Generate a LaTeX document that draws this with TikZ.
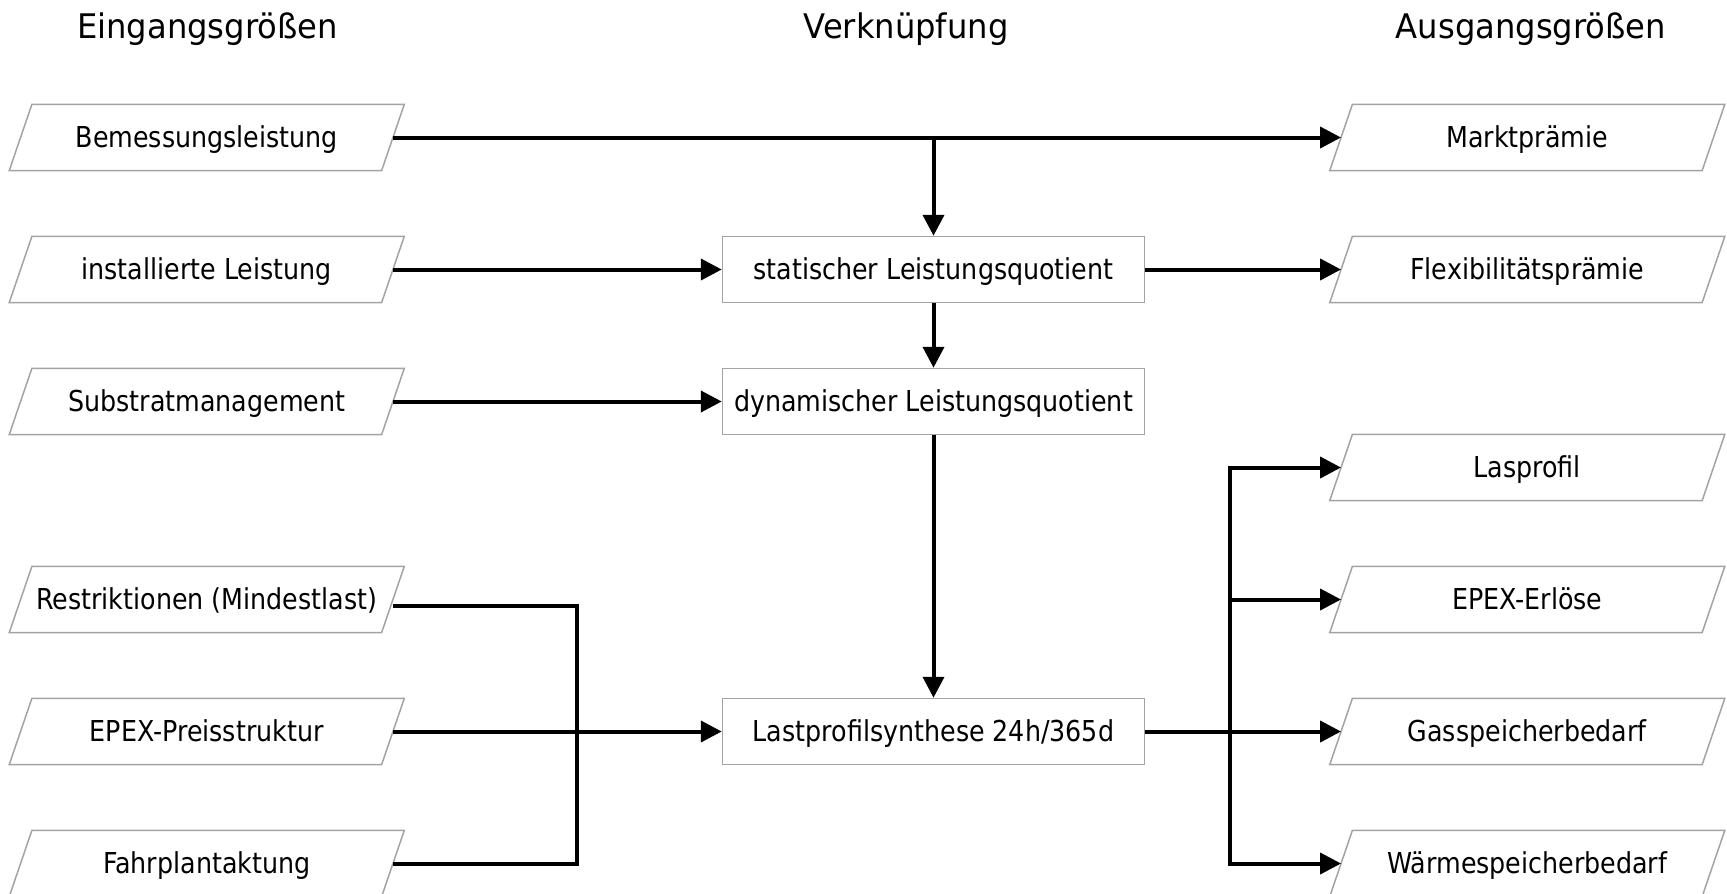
\documentclass[tikz,border=0pt]{standalone}
\usepackage{fontspec}
\setmainfont{DejaVu Sans}[FakeStretch=0.88]
\newfontfamily\titelfont{DejaVu Sans}[FakeStretch=0.95]
\usetikzlibrary{arrows.meta}
\definecolor{rahmengrau}{HTML}{A3A3A3}

\begin{document}
\begin{tikzpicture}[x=1pt, y=-1pt, >={Triangle[length=21pt,width=21pt]},
        every edge/.style={draw=black, line width=4pt},
        linie/.style={draw=black, line width=4pt},
        rahmen/.style={draw=rahmengrau, line width=1.5pt},
        titel/.style={anchor=base, font=\titelfont\fontsize{33.9}{40}\selectfont},
        eingang/.style={rectangle, minimum width=372pt, minimum height=66pt, inner sep=0pt, text height=20.5pt, text depth=0pt, font=\fontsize{28.8}{34}\selectfont},
        block/.style={rectangle, rahmen, minimum width=422pt, minimum height=66pt, text height=20.5pt, text depth=0pt, font=\fontsize{28.8}{34}\selectfont}]
        \useasboundingbox (0,0) rectangle (1727,894);

        \node[titel] (tein) at (207.5, 38) {Eingangsgrößen};

        \node[titel] (tverk) at (906, 38) {Verknüpfung};

        \node[titel] (taus) at (1531, 38) {Ausgangsgrößen};

        % Eingangsgroessen
        \node[eingang] (bem) at (206.75, 137.5) {Bemessungsleistung};

        \node[eingang] (inst) at (206.75, 269.5) {installierte Leistung};

        \node[eingang] (substr) at (206.75, 401.5) {Substratmanagement};

        \node[eingang] (restr) at (206.75, 599.5) {Restriktionen (Mindestlast)};

        \node[eingang] (epexP) at (206.75, 731.5) {EPEX-Preisstruktur};

        \node[eingang] (fahr) at (206.75, 863.5) {Fahrplantaktung};

        % Verknuepfung
        \node[block] (stat) at (933.5, 269.5) {statischer Leistungsquotient};

        \node[block] (dyn) at (933.5, 401.5) {dynamischer Leistungsquotient};

        \node[block] (synth) at (933.5, 731.5) {Lastprofilsynthese 24h/365d};

        % Ausgangsgroessen
        \node[eingang] (markt) at (1527.25, 137.5) {Marktprämie};

        \node[eingang] (flex) at (1527.25, 269.5) {Flexibilitätsprämie};

        \node[eingang] (lasp) at (1527.25, 467.5) {Lasprofil};

        \node[eingang] (epexE) at (1527.25, 599.5) {EPEX-Erlöse};

        \node[eingang] (gas) at (1527.25, 731.5) {Gasspeicherbedarf};

        \node[eingang] (waerme) at (1527.25, 863.5) {Wärmespeicherbedarf};

        % schraege Rahmen
        \foreach \n in {bem,inst,substr,restr,epexP,fahr,markt,flex,lasp,epexE,gas,waerme}
            \draw[rahmen] ([xshift=11.35pt]\n.north west) -- ([xshift=11.35pt]\n.north east)
                -- ([xshift=-11.35pt]\n.south east) -- ([xshift=-11.35pt]\n.south west) -- cycle;

        \coordinate (sammelL) at (576.5, 731.5);
        \coordinate (sammelR) at (1229.5, 731.5);

        \path [->](bem) edge (markt);
        \path [->](bem.east -| stat.north) edge (stat.north);
        \path [->](inst) edge (stat);
        \path [->](stat) edge (flex);
        \path [->](stat) edge (dyn);
        \path [->](substr) edge (dyn);
        \path [->](dyn) edge (synth);
        \path [->](epexP) edge (synth);
        \path [->](synth) edge (gas);

        \draw[linie] ([yshift=-6pt]restr.east) -| (sammelL) |- (fahr.east);

        \draw[linie, ->] (sammelR) |- (lasp.west);
        \draw[linie, ->] (sammelR) |- (epexE.west);
        \draw[linie, ->] (sammelR) |- (waerme.west);

    \end{tikzpicture}
\end{document}
